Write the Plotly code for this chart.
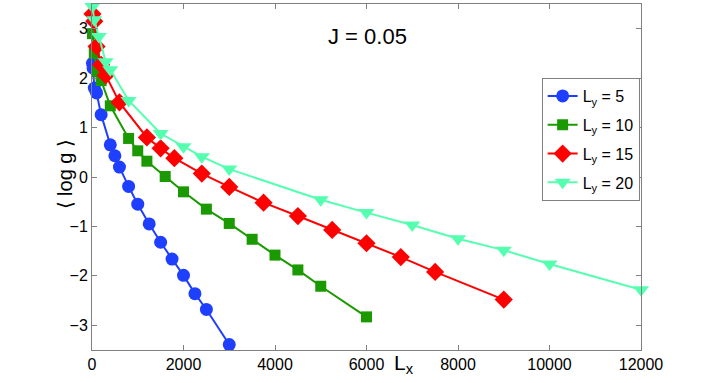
"""<log g> versus L_x for several strip widths L_y at J = 0.05."""

import plotly.graph_objects as go

# data
lx_5 = [10, 25, 50, 100, 200, 400, 500, 600, 800, 1000, 1250, 1500, 1750, 2000, 2250, 2500, 3000]
logg_5 = [2.30, 2.20, 1.80, 1.70, 1.26, 0.65, 0.43, 0.20, -0.19, -0.55, -0.95, -1.32, -1.66, -1.99, -2.36, -2.68, -3.39]

lx_10 = [10, 50, 100, 200, 400, 800, 1000, 1200, 1600, 2000, 2500, 3000, 3500, 4000, 4500, 5000, 6000]
logg_10 = [2.90, 2.50, 2.13, 1.95, 1.44, 0.78, 0.53, 0.32, 0.01, -0.30, -0.65, -0.94, -1.26, -1.58, -1.88, -2.21, -2.83]

lx_15 = [10, 50, 100, 200, 300, 600, 1200, 1500, 1800, 2400, 3000, 3750, 4500, 5250, 6000, 6750, 7500, 9000]
logg_15 = [3.30, 3.15, 2.64, 2.27, 2.06, 1.51, 0.80, 0.58, 0.38, 0.07, -0.20, -0.52, -0.79, -1.07, -1.34, -1.62, -1.92, -2.48]

lx_20 = [10, 50, 150, 300, 400, 800, 1500, 2000, 2400, 3000, 5000, 6000, 7000, 8000, 9000, 10000, 12000]
logg_20 = [3.45, 3.18, 2.84, 2.33, 2.17, 1.55, 0.88, 0.61, 0.41, 0.16, -0.46, -0.72, -0.97, -1.25, -1.48, -1.76, -2.28]

x_ticks = [0, 2000, 4000, 6000, 8000, 10000, 12000]
y_ticks = [-3, -2, -1, 0, 1, 2, 3]

SERIES = [
    ("L<sub>y</sub> = 5", lx_5, logg_5, "#1f3fff", "circle", 13),
    ("L<sub>y</sub> = 10", lx_10, logg_10, "#1a9a00", "square", 11),
    ("L<sub>y</sub> = 15", lx_15, logg_15, "#ff0000", "diamond", 14),
    ("L<sub>y</sub> = 20", lx_20, logg_20, "#55ffb0", "triangle-down", 14),
]

FONT = "Liberation Sans, Arial, sans-serif"
AXIS_GREY = "#808080"

fig = go.Figure()
for name, xs, ys, color, symbol, size in SERIES:
    fig.add_trace(go.Scatter(
        x=xs, y=ys, name=name, legendgroup=name, mode="lines+markers",
        line=dict(color=color, width=2),
        marker=dict(color=color, symbol=symbol, size=size, line=dict(width=0)),
        cliponaxis=False,
    ))

axis_common = dict(
    showgrid=False, zeroline=False,
    showline=True, linecolor=AXIS_GREY, linewidth=1, mirror="ticks",
    ticks="inside", ticklen=5, tickcolor=AXIS_GREY,
    tickfont=dict(family=FONT, size=16, color="black"),
)

fig.update_layout(
    width=708, height=383,
    paper_bgcolor="white", plot_bgcolor="white",
    margin=dict(l=92, r=67, t=4, b=33),
    font=dict(family=FONT, color="black"),
    xaxis=dict(range=[0, 12000], tickvals=x_ticks, ticktext=[str(v) for v in x_ticks], **axis_common),
    yaxis=dict(range=[-3.5, 3.5], tickvals=y_ticks, ticktext=["\u2212" + str(-v) if v < 0 else str(v) for v in y_ticks], **axis_common),
    legend=dict(
        x=0.819, y=0.786, xanchor="left", yanchor="top",
        bgcolor="white", bordercolor=AXIS_GREY, borderwidth=1,
        font=dict(family=FONT, size=16, color="black"),
        tracegroupgap=5, itemwidth=30,
    ),
    showlegend=True,
    annotations=[
        dict(text="J = 0.05", x=0.502, y=0.948, xref="paper", yref="paper",
             xanchor="center", showarrow=False, font=dict(family=FONT, size=22)),
        dict(text="L<sub>x</sub>", x=0.568, y=-0.085, xref="paper", yref="paper",
             xanchor="center", showarrow=False, font=dict(family=FONT, size=21)),
        dict(text="\u27e8 log g \u27e9", x=-0.05, y=0.506, xref="paper", yref="paper",
             xanchor="center", yanchor="middle", textangle=-90, showarrow=False,
             font=dict(family=FONT, size=20)),
    ],
)

# drop the page's default body margin so the figure sits at the window origin
fig.write_html(
    "out.html",
    config={"displayModeBar": False},
    post_script="document.body.style.margin='0';",
)
